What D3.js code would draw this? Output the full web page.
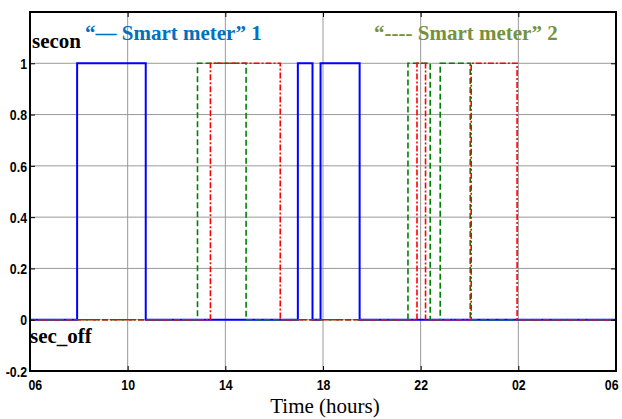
<!DOCTYPE html>
<html>
<head>
<meta charset="utf-8">
<script src="https://cdn.jsdelivr.net/npm/d3@7"></script>
<style>
  html, body { margin: 0; padding: 0; background: #fff; }
  svg { display: block; }
  .tick-label { font-family: 'Liberation Sans', Arial, sans-serif; font-weight: bold; font-size: 14.5px; fill: #000; }
</style>
</head>
<body>
<svg id="chart" width="622" height="419"></svg>
<script>
// ---- data (hours; 24..30 = next day 00..06) ----
const meter1Times  = [6, 7.93, 10.74, 16.97, 17.57, 17.9, 19.5, 30];
const meter1Values = [0, 1, 0, 1, 0, 1, 0, 0];

const meter2aTimes  = [6, 12.86, 14.85, 21.48, 22.39, 22.8, 24.03, 30];
const meter2aValues = [0, 1, 0, 1, 0, 1, 0, 0];

const meter2bTimes  = [6, 13.39, 16.25, 21.85, 22.2, 24.07, 25.95, 30];
const meter2bValues = [0, 1, 0, 1, 0, 1, 0, 0];

const xTickValues = [6, 10, 14, 18, 22, 26, 30];
const xTickLabels = ["06", "10", "14", "18", "22", "02", "06"];
const yTickValues = [-0.2, 0, 0.2, 0.4, 0.6, 0.8, 1];
const yTickLabels = ["-0.2", "0", "0.2", "0.4", "0.6", "0.8", "1"];

const legend1Text = "\u201C\u2014 Smart meter\u201D 1";
const legend2Text = "\u201C---- Smart meter\u201D 2";
const onLabel = "secon";
const offLabel = "sec_off";
const xTitle = "Time (hours)";

// ---- layout ----
const svg = d3.select("#chart");
const L = 30, R = 616, T = 12, B = 371;
const SERIF = "'Liberation Serif', 'Times New Roman', Times, serif";

const x = d3.scaleLinear().domain([6, 30]).range([L, R]);
const y = d3.scaleLinear().domain([-0.2, 1.2]).range([B, T]);

// grid
const grid = svg.append("g");
grid.selectAll("line.vg").data(xTickValues.slice(1, -1)).enter().append("line")
  .attr("x1", d => x(d)).attr("x2", d => x(d)).attr("y1", T).attr("y2", B)
  .attr("stroke", "#999").attr("stroke-width", 1);
grid.selectAll("line.hg").data(yTickValues.filter(v => v > -0.2)).enter().append("line")
  .attr("x1", L).attr("x2", R).attr("y1", d => y(d)).attr("y2", d => y(d))
  .attr("stroke", "#999").attr("stroke-width", 1);

// series
function series(times, values) {
  return times.map((t, i) => [t, values[i]]);
}
const line = d3.line().x(d => x(d[0])).y(d => y(d[1])).curve(d3.curveStepAfter);

svg.append("path").datum(series(meter1Times, meter1Values))
  .attr("d", line).attr("fill", "none").attr("stroke", "#0000ff").attr("stroke-width", 2);
svg.append("path").datum(series(meter2aTimes, meter2aValues))
  .attr("d", line).attr("fill", "none").attr("stroke", "#008000").attr("stroke-width", 1.6)
  .attr("stroke-dasharray", "6,3");
svg.append("path").datum(series(meter2bTimes, meter2bValues))
  .attr("d", line).attr("fill", "none").attr("stroke", "#ff0000").attr("stroke-width", 1.6)
  .attr("stroke-dasharray", "6,2,2,2");

// axes box
svg.append("rect").attr("x", L).attr("y", T).attr("width", R - L).attr("height", B - T)
  .attr("fill", "none").attr("stroke", "#000").attr("stroke-width", 2);

// condense helper (narrow bold sans look)
function condense(sel, k) {
  sel.each(function () {
    const w = this.getComputedTextLength();
    d3.select(this).attr("textLength", w * k).attr("lengthAdjust", "spacingAndGlyphs");
  });
}

// axes ticks via d3 axes (inward)
const xBottom = d3.axisBottom(x).tickValues(xTickValues).tickFormat((d, i) => xTickLabels[i])
  .tickSizeInner(-5).tickSizeOuter(0);
const gxb = svg.append("g").attr("transform", `translate(0,${B})`).call(xBottom);
gxb.select(".domain").remove();
gxb.selectAll("line").attr("stroke", "#000");
gxb.selectAll("text").attr("class", "tick-label").attr("font-size", null).attr("dy", null).attr("y", 19);
condense(gxb.selectAll("text"), 0.85);
gxb.selectAll("text").filter((d, i) => i === 0).attr("text-anchor", "start").attr("x", -2);
gxb.selectAll("text").filter((d, i) => i === xTickValues.length - 1).attr("text-anchor", "end").attr("x", 2);

const xTop = d3.axisTop(x).tickValues(xTickValues).tickFormat("").tickSizeInner(-5).tickSizeOuter(0);
const gxt = svg.append("g").attr("transform", `translate(0,${T})`).call(xTop);
gxt.select(".domain").remove();
gxt.selectAll("line").attr("stroke", "#000");

const yLeft = d3.axisLeft(y).tickValues(yTickValues).tickFormat((d, i) => yTickLabels[i])
  .tickSizeInner(-5).tickSizeOuter(0);
const gyl = svg.append("g").attr("transform", `translate(${L},0)`).call(yLeft);
gyl.select(".domain").remove();
gyl.selectAll("line").attr("stroke", "#000");
gyl.selectAll("text").attr("class", "tick-label").attr("x", -3).attr("dy", "0.36em");
condense(gyl.selectAll("text"), 0.85);

const yRight = d3.axisRight(y).tickValues(yTickValues).tickFormat("").tickSizeInner(-5).tickSizeOuter(0);
const gyr = svg.append("g").attr("transform", `translate(${R},0)`).call(yRight);
gyr.select(".domain").remove();
gyr.selectAll("line").attr("stroke", "#000");

// annotations
function serifText(tx, ty, txt, color, weight, anchor) {
  return svg.append("text").attr("x", tx).attr("y", ty)
    .attr("font-family", SERIF).attr("font-size", 21).attr("font-weight", weight)
    .attr("text-anchor", anchor || "start").attr("fill", color).text(txt);
}
serifText(32, 48, onLabel, "#000", "bold");
serifText(30, 343, offLabel, "#000", "bold");
serifText(85, 40, legend1Text, "#0070c0", "bold");
serifText(374, 40, legend2Text, "#76923c", "bold");
serifText((L + R) / 2 + 2, 413, xTitle, "#000", "normal", "middle");
</script>
</body>
</html>
